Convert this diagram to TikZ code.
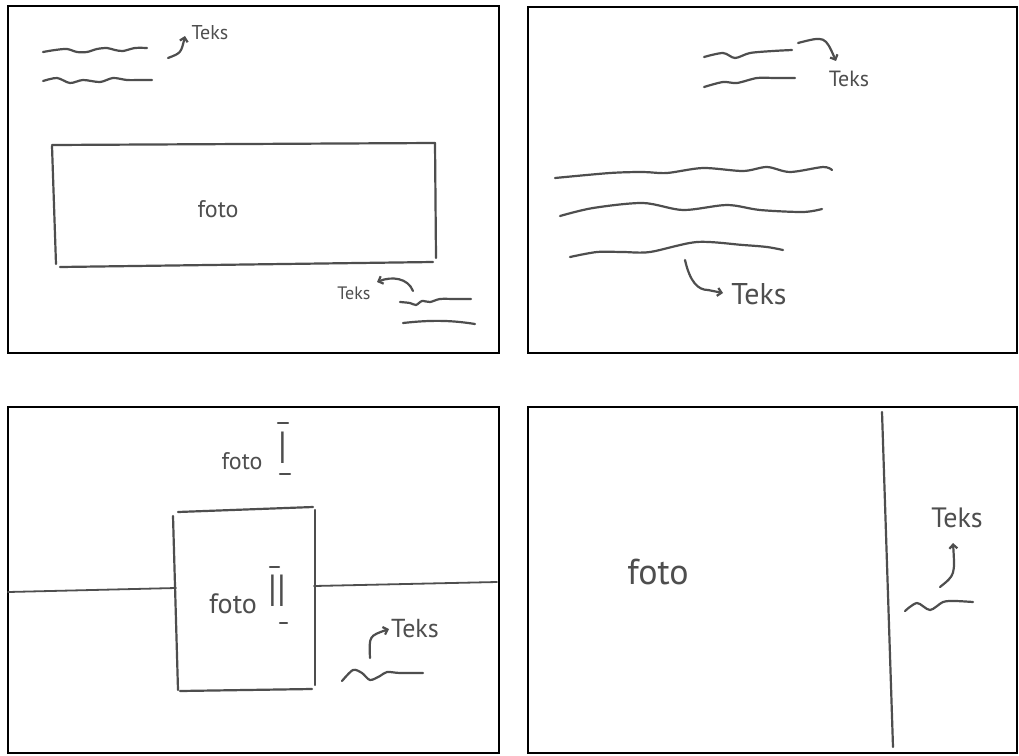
\documentclass[tikz,border=0pt]{standalone}
\usepackage{fontspec}
\setmainfont{PT Sans}
\usetikzlibrary{arrows.meta}
\definecolor{ink}{HTML}{4E4E4E}
\begin{document}
\begin{tikzpicture}[x=1pt,y=-1pt,
  frame/.style={draw=black,line width=2.8pt},
  pen/.style={draw=ink,line width=2.2pt,line cap=round,line join=round},
  wave/.style={pen,smooth},
  arr/.style={pen,-{Straight Barb[length=4pt,width=8pt]}},
  lbl/.style={text=ink,inner sep=0pt},
  fs/.style={lbl,font=\fontsize{#1}{#1}\selectfont}]
\useasboundingbox (0,0) rectangle (1019,755);
\fill[white] (0,0) rectangle (1019,755);
% ---------- frames ----------
\draw[frame] (8,6) rectangle (499,353);
\draw[frame] (528,7) rectangle (1017,353);
\draw[frame] (8,407) rectangle (499,753);
\draw[frame] (528,407) rectangle (1017,753);
% ---------- panel 1 ----------
\draw[wave] plot coordinates {(43,52) (55,50) (67,49) (77,52) (87,52) (97,49) (107,48) (115,50) (123,51) (135,48) (147,48)};
\draw[wave] plot coordinates {(43,81) (57,78) (70,83) (83,80) (100,82) (113,78) (127,80) (140,80) (152,80)};
\node[fs=20] (t1) at (210,33) {Teks};
\coordinate (a1s) at (168,58);
\coordinate (a1e) at (185,36);
\draw[arr] (a1s) .. controls (181,53) .. (a1e);
\draw[pen] (52,146) -- (56,264);
\draw[pen] (52,145) -- (435,143);
\draw[pen] (435,143) -- (436,258);
\draw[pen] (60,267) -- (433,262);
\node[fs=24] (f1) at (218,209) {foto};
\node[fs=18] (t2) at (354,293) {Teks};
\coordinate (a2s) at (413,291);
\coordinate (a2e) at (377,282);
\draw[arr] (a2s) .. controls (408,278) and (392,276) .. (a2e);
\draw[wave] plot coordinates {(400,302) (410,303) (416,305) (422,301) (430,302) (440,299) (455,299) (471,299)};
\draw[pen] (403,323) .. controls (430,320) and (450,320) .. (475,324);
% ---------- panel 2 ----------
\draw[wave] plot coordinates {(704,57) (723,53) (735,58) (750,53) (773,51) (792,50)};
\draw[wave] plot coordinates {(704,87) (723,82) (737,83) (757,78) (775,78) (795,78)};
\node[fs=22] (t3) at (849,79) {Teks};
\coordinate (a3s) at (798,43);
\coordinate (a3e) at (836,61);
\draw[arr] (a3s) .. controls (825,36) .. (a3e);
\draw[wave] plot coordinates {(555,178) (610,173) (643,172) (667,173) (703,168) (743,171) (767,167) (790,172) (823,167) (832,170)};
\draw[wave] plot coordinates {(560,216) (593,208) (643,203) (683,210) (727,205) (760,210) (803,212) (822,209)};
\draw[wave] plot coordinates {(570,257) (597,252) (623,252) (650,252) (697,242) (743,245) (767,247) (783,250)};
\node[fs=30] (t4) at (759,294) {Teks};
\coordinate (a4s) at (685,260);
\coordinate (a4e) at (723,293);
\draw[pen] (a4s) .. controls (690,282) and (698,290) .. (708,290);
\draw[arr] (708,290) -- (a4e);
% ---------- panel 3 ----------
\node[fs=24] (f3a) at (242,461) {foto};
\node[fs=30] (n1) at (283,448) {\scalebox{1}[1.5]{I}};
\draw[pen] (278,423) -- (288,423);
\draw[pen] (280,474) -- (290,474);
\draw[pen] (178,512) -- (313,507);
\draw[pen] (173,516) -- (178,690);
\draw[pen] (180,691) -- (312,689);
\draw[pen] (315,510) -- (315,685);
\coordinate (l3a) at (8,592);
\coordinate (l3b) at (176,588);
\coordinate (l3c) at (314,586);
\coordinate (l3d) at (497,582);
\draw[pen,line width=1.8pt] (l3a) -- (l3b);
\draw[pen,line width=1.8pt] (l3c) -- (l3d);
\node[fs=28] (f3b) at (233,604) {foto};
\node[fs=30] (n2) at (277,591) {\scalebox{1}[1.5]{II}};
\draw[pen] (270,567) -- (279,567);
\draw[pen] (280,623) -- (287,623);
\node[fs=26] (t5) at (415,629) {Teks};
\coordinate (a5s) at (370,658);
\coordinate (a5e) at (389,629);
\draw[arr] (a5s) .. controls (369,636) .. (a5e);
\draw[wave] plot coordinates {(342,681) (353,670) (362,673) (370,680) (380,676) (387,672) (400,673) (423,673)};
% ---------- panel 4 ----------
\coordinate (v4a) at (882,412);
\coordinate (v4b) at (893,747);
\draw[pen] (v4a) -- (v4b);
\node[fs=36] (f4) at (658,572) {foto};
\node[fs=28] (t6) at (957,518) {Teks};
\coordinate (a6s) at (940,587);
\coordinate (a6e) at (953,543);
\draw[arr] (a6s) .. controls (955,575) .. (a6e);
\draw[wave] plot coordinates {(905,611) (917,603) (930,610) (943,602) (955,601) (973,602)};
\end{tikzpicture}
\end{document}
